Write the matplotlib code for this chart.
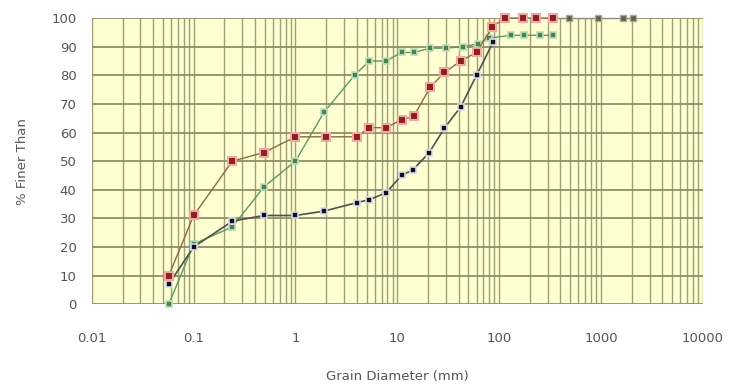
import matplotlib
matplotlib.use("Agg")
import matplotlib.pyplot as plt
import numpy as np

# grain size distribution curves
red_x = [0.057, 0.1, 0.24, 0.49, 1.0, 2.0, 4.0, 5.3, 7.8, 11, 14.5, 21, 29, 42, 60, 86, 115, 170, 230, 340]
red_y = [10, 31, 50, 53, 58.5, 58.5, 58.5, 61.7, 61.7, 64.5, 65.6, 75.8, 81, 85, 88, 97, 100, 100, 100, 100]

green_x = [0.057, 0.1, 0.24, 0.49, 1.0, 1.9, 3.8, 5.3, 7.8, 11, 14.7, 21, 30, 44, 62, 80, 130, 175, 250, 340]
green_y = [0, 21, 27, 41, 50, 67, 80, 85, 85, 88, 88, 89.5, 89.5, 90, 91, 93, 94, 94, 94, 94]

black_x = [0.057, 0.1, 0.24, 0.49, 1.0, 1.9, 4.0, 5.3, 7.8, 11, 14.3, 20.6, 29, 42, 60, 87]
black_y = [7, 20, 29, 31, 31, 32.5, 35.5, 36.5, 39, 45, 47, 53, 61.5, 69, 80, 91.5]

gray_x = [340, 490, 930, 1650, 2050]
gray_y = [100, 100, 100, 100, 100]

x_ticks = [0.01, 0.1, 1, 10, 100, 1000, 10000]
x_labels = ["0.01", "0.1", "1", "10", "100", "1000", "10000"]
y_ticks = list(range(0, 101, 10))

fig = plt.figure(figsize=(7.29, 3.85), dpi=100)
ax = fig.add_axes([0.126, 0.21, 0.838, 0.743])
ax.set_facecolor("#ffffd2")

ax.set_xscale("log")
ax.set_xlim(0.01, 10000)
ax.set_ylim(0, 100)

grid_col = "#8e8e6a"
ax.grid(True, which="major", axis="y", color=grid_col, linewidth=1.3)
ax.grid(True, which="both", axis="x", color=grid_col, linewidth=1.0, alpha=0.85)
ax.set_axisbelow(True)
for s in ax.spines.values():
    s.set_visible(False)

ax.plot(gray_x, gray_y, color="#8a8a80", linewidth=1, marker="s", markersize=5,
        markerfacecolor="#5e5e50", markeredgecolor="#a8a890", zorder=3, clip_on=False)
ax.plot(green_x, green_y, color="#5a9a5a", linewidth=1, marker="s", markersize=4.5,
        markerfacecolor="#4f7f4f", markeredgecolor="#b8e0b8", markeredgewidth=1.2, zorder=4,
        clip_on=False)
ax.plot(black_x, black_y, color="#505050", linewidth=1.2, marker="s", markersize=4.5,
        markerfacecolor="#111111", markeredgecolor="#d8d8f0", markeredgewidth=1.2, zorder=5,
        clip_on=False)
ax.plot(red_x, red_y, color="#8a6a40", linewidth=1, marker="s", markersize=6,
        markerfacecolor="#8b2020", markeredgecolor="#f0a8a0", markeredgewidth=1.5, zorder=6,
        clip_on=False)

ax.set_xticks(x_ticks)
ax.set_xticklabels(x_labels)
ax.set_yticks(y_ticks)
ax.tick_params(axis="both", which="both", length=0, labelsize=9.5, labelcolor="#555555")
ax.tick_params(axis="x", pad=20)
ax.tick_params(axis="y", pad=11)

ax.set_xlabel("Grain Diameter (mm)", fontsize=9.5, color="#555555", labelpad=18)
ax.set_ylabel("% Finer Than", fontsize=9.5, color="#555555", labelpad=16)

fig.savefig("out.png", dpi=100)
